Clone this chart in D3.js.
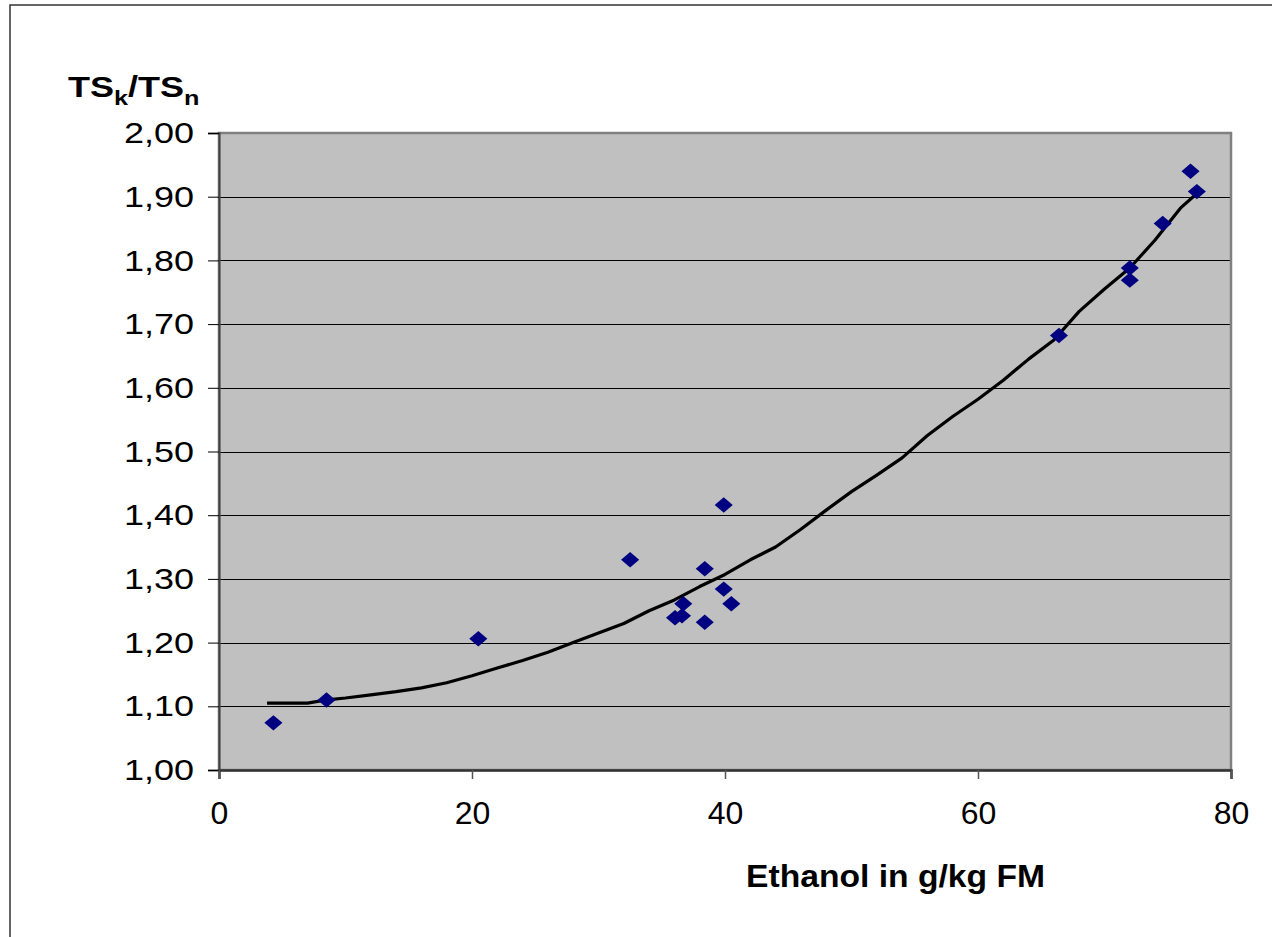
<!DOCTYPE html>
<html>
<head>
<meta charset="utf-8">
<script src="https://cdn.jsdelivr.net/npm/d3@7"></script>
<style>
  html, body { margin: 0; padding: 0; background: #fff; }
  svg { display: block; }
  text { font-family: "Liberation Sans", Arial, sans-serif; fill: #000; }
</style>
</head>
<body>
<svg id="chart" width="1272" height="937"></svg>
<script>
// Measured points
const pointX = [4.3, 8.5, 20.5, 32.5, 36.05, 36.6, 36.7, 38.4, 38.4, 39.9, 39.9, 40.5, 66.4, 72.0, 72.0, 74.6, 76.8, 77.3];
const pointY = [1.074, 1.110, 1.206, 1.330, 1.239, 1.242, 1.261, 1.232, 1.316, 1.416, 1.284, 1.261, 1.682, 1.788, 1.769, 1.858, 1.940, 1.908];

// Fitted curve
const curveX = [3.8, 7.0, 8.5, 10, 12, 14, 16, 18, 20, 22, 24, 26, 28, 30, 32, 34, 36, 38, 40, 42, 44, 46, 48, 50, 52, 54, 56, 58, 60, 62, 64, 66, 68, 70, 72, 74, 76, 77.3];
const curveY = [1.105, 1.105, 1.110, 1.113, 1.118, 1.123, 1.129, 1.137, 1.148, 1.160, 1.172, 1.185, 1.200, 1.215, 1.230, 1.250, 1.267, 1.288, 1.307, 1.330, 1.350, 1.378, 1.408, 1.437, 1.463, 1.490, 1.525, 1.555, 1.582, 1.612, 1.645, 1.675, 1.720, 1.755, 1.788, 1.832, 1.882, 1.905];

const xTicks = [0, 20, 40, 60, 80];
const yTicks = [1.0, 1.1, 1.2, 1.3, 1.4, 1.5, 1.6, 1.7, 1.8, 1.9, 2.0];

const svg = d3.select("#chart");

const L = 219, R = 1231, T = 133, B = 770;
const x = d3.scaleLinear().domain([0, 80]).range([L, R]);
const y = d3.scaleLinear().domain([1.0, 2.0]).range([B, T]);

// outer frame
svg.append("rect")
  .attr("x", 10).attr("y", 5).attr("width", 1300).attr("height", 1000)
  .attr("fill", "none").attr("stroke", "#333").attr("stroke-width", 1.5);

// plot area
svg.append("rect")
  .attr("x", L).attr("y", T).attr("width", R - L).attr("height", B - T)
  .attr("fill", "#c0c0c0");

// gridlines
svg.append("g").selectAll("line").data(yTicks.slice(1)).join("line")
  .attr("x1", L).attr("x2", R)
  .attr("y1", d => Math.round(y(d)) + 0.5).attr("y2", d => Math.round(y(d)) + 0.5)
  .attr("stroke", "#000").attr("stroke-width", 1);

// plot border
svg.append("rect")
  .attr("x", L).attr("y", T).attr("width", R - L).attr("height", B - T)
  .attr("fill", "none").attr("stroke", "#808080").attr("stroke-width", 2.5);

// y axis
const yAxis = d3.axisLeft(y).tickValues(yTicks).tickSize(11).tickPadding(14)
  .tickFormat(d => d3.format(".2f")(d).replace(".", ","));
const gy = svg.append("g").attr("transform", `translate(${L},0)`).call(yAxis);
gy.select(".domain").attr("stroke", "#404040").attr("stroke-width", 2);
gy.selectAll(".tick line").attr("stroke", "#000");
gy.selectAll(".tick text")
  .style("font-family", '"Liberation Sans", Arial, sans-serif')
  .style("font-size", "30px").attr("textLength", 70).attr("lengthAdjust", "spacingAndGlyphs");

// x axis
const xAxis = d3.axisBottom(x).tickValues(xTicks).tickSize(9).tickPadding(22);
const gx = svg.append("g").attr("transform", `translate(0,${B})`).call(xAxis);
gx.select(".domain").attr("stroke", "#333").attr("stroke-width", 2.5);
gx.selectAll(".tick line").attr("stroke", "#555").attr("stroke-width", 1.5);
gx.selectAll(".tick text")
  .style("font-family", '"Liberation Sans", Arial, sans-serif')
  .style("font-size", "32px");

// fitted line
const line = d3.line().x(d => x(d[0])).y(d => y(d[1]));
svg.append("path")
  .datum(curveX.map((v, i) => [v, curveY[i]]))
  .attr("d", line)
  .attr("fill", "none").attr("stroke", "#000").attr("stroke-width", 3.2)
  .attr("stroke-linejoin", "round");

// diamonds
svg.append("g").selectAll("path").data(pointX.map((v, i) => [v, pointY[i]])).join("path")
  .attr("d", d3.symbol().type(d3.symbolSquare).size(140))
  .attr("transform", d => `translate(${x(d[0])},${y(d[1])}) scale(1.08,0.92) rotate(45)`)
  .attr("fill", "#000080");

// y title
const yt = svg.append("text")
  .attr("transform", "translate(68,97) scale(1.2,1)")
  .style("font-size", "30px").style("font-weight", "bold");
yt.append("tspan").text("TS");
yt.append("tspan").attr("dy", 8).style("font-size", "21px").text("k");
yt.append("tspan").attr("dy", -8).text("/TS");
yt.append("tspan").attr("dy", 8).style("font-size", "21px").text("n");

// x title
svg.append("text").attr("x", 746).attr("y", 887)
  .style("font-size", "31px").style("font-weight", "bold")
  .attr("textLength", 299).attr("lengthAdjust", "spacingAndGlyphs")
  .text("Ethanol in g/kg FM");
</script>
</body>
</html>
